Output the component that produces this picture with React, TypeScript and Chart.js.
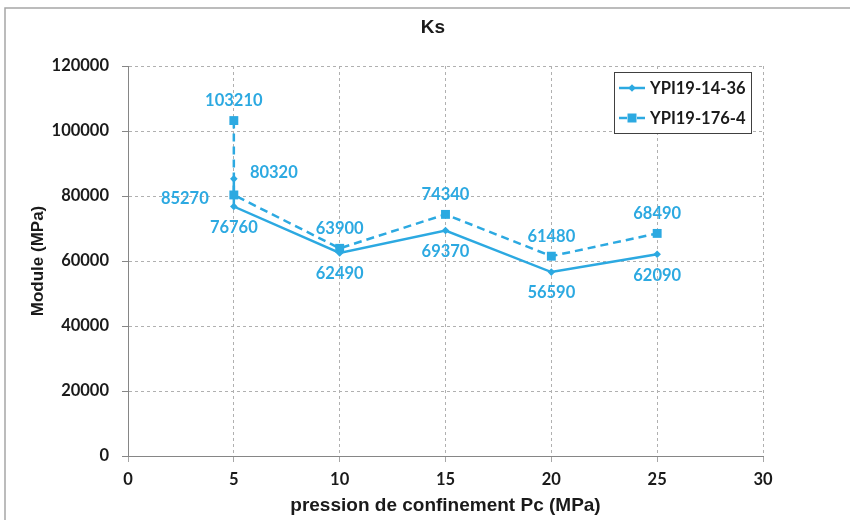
import React, { useEffect, useRef } from "react";
import { Chart, registerables } from "chart.js";

Chart.register(...registerables);

// ---- data ----
const chartTitle = "Ks";
const xTitle = "pression de confinement Pc (MPa)";
const yTitle = "Module (MPa)";
const seriesNames = ["YPI19-14-36", "YPI19-176-4"];
const pcS1 = [5, 5, 10, 15, 20, 25];
const moduleS1 = [85270, 76760, 62490, 69370, 56590, 62090];
const pcS2 = [5, 5, 10, 15, 20, 25];
const moduleS2 = [103210, 80320, 63900, 74340, 61480, 68490];
const xTickValues = [0, 5, 10, 15, 20, 25, 30];
const yTickValues = [0, 20000, 40000, 60000, 80000, 100000, 120000];

// ---- label placement (style) ----
const placementS1 = ["leftBelow", "below", "below", "below", "below", "below"];
const placementS2 = ["above", "rightAbove", "above", "above", "above", "above"];
const OFFSETS: Record<string, [number, number]> = {
  above: [0, -20],
  below: [0, 21],
  leftBelow: [-49, 20],
  rightAbove: [40, -22],
};

const BLUE = "#2CA9E1";
const LABEL_FONT = "bold 16.5px Lato, 'Open Sans', sans-serif";
const TITLE_FAMILY = "'Liberation Sans', Arial, sans-serif";

const decorPlugin = {
  id: "decor",
  beforeDraw(chart: any) {
    const ctx = chart.ctx;
    ctx.save();
    // outer frame (top + left edges visible)
    ctx.strokeStyle = "#A6A6A6";
    ctx.lineWidth = 1.5;
    ctx.beginPath();
    ctx.moveTo(5, 521);
    ctx.lineTo(5, 8);
    ctx.lineTo(851, 8);
    ctx.stroke();
    // title
    ctx.fillStyle = "#1a1a1a";
    ctx.font = `bold 19px ${TITLE_FAMILY}`;
    ctx.textAlign = "center";
    ctx.textBaseline = "middle";
    ctx.fillText(chartTitle, 433, 28);
    ctx.restore();
  },
  afterDatasetsDraw(chart: any) {
    const ctx = chart.ctx;
    ctx.save();
    // data labels
    ctx.font = LABEL_FONT;
    ctx.fillStyle = BLUE;
    ctx.textAlign = "center";
    ctx.textBaseline = "middle";
    const placements = [placementS1, placementS2];
    chart.data.datasets.forEach((ds: any, di: number) => {
      const meta = chart.getDatasetMeta(di);
      meta.data.forEach((el: any, i: number) => {
        const [dx, dy] = OFFSETS[placements[di][i]];
        ctx.fillText(String(ds.data[i].y), el.x + dx, el.y + dy);
      });
    });

    // legend
    const bx = 614.5, by = 72.5, bw = 137, bh = 61;
    ctx.fillStyle = "#ffffff";
    ctx.fillRect(bx, by, bw, bh);
    ctx.strokeStyle = "#404040";
    ctx.lineWidth = 1;
    ctx.strokeRect(bx, by, bw, bh);
    const rows = [88, 118];
    chart.data.datasets.forEach((ds: any, di: number) => {
      const y = rows[di];
      ctx.strokeStyle = BLUE;
      ctx.fillStyle = BLUE;
      ctx.lineWidth = 2.5;
      ctx.beginPath();
      if (di === 0) {
        ctx.moveTo(619, y);
        ctx.lineTo(645, y);
      } else {
        ctx.moveTo(619, y);
        ctx.lineTo(627, y);
        ctx.moveTo(637, y);
        ctx.lineTo(645, y);
      }
      ctx.stroke();
      ctx.beginPath();
      if (di === 0) {
        const r = 3.8;
        ctx.moveTo(632, y - r);
        ctx.lineTo(632 + r, y);
        ctx.lineTo(632, y + r);
        ctx.lineTo(632 - r, y);
        ctx.closePath();
      } else {
        ctx.rect(632 - 4.5, y - 4.5, 9, 9);
      }
      ctx.fill();
      ctx.fillStyle = "#1a1a1a";
      ctx.font = LABEL_FONT;
      ctx.textAlign = "left";
      ctx.textBaseline = "middle";
      ctx.fillText(ds.label, 650, y + 1);
    });
    ctx.restore();
  },
};

export default function App() {
  const canvasRef = useRef<HTMLCanvasElement | null>(null);

  useEffect(() => {
    const canvas = canvasRef.current;
    if (!canvas) return;
    const tickFont = { family: "Lato, 'Open Sans', sans-serif", size: 16.5, weight: "bold" as const };
    const chart = new Chart(canvas, {
      type: "line",
      data: {
        datasets: [
          {
            label: seriesNames[0],
            data: pcS1.map((x, i) => ({ x, y: moduleS1[i] })),
            borderColor: BLUE,
            backgroundColor: BLUE,
            borderWidth: 2.5,
            pointStyle: "rectRot",
            pointRadius: 3.8,
            pointBorderWidth: 0,
            pointBackgroundColor: BLUE,
            tension: 0,
            fill: false,
          },
          {
            label: seriesNames[1],
            data: pcS2.map((x, i) => ({ x, y: moduleS2[i] })),
            borderColor: BLUE,
            backgroundColor: BLUE,
            borderWidth: 2.5,
            borderDash: [8, 5],
            pointStyle: "rect",
            pointRadius: 6.3,
            pointBorderWidth: 0,
            pointBackgroundColor: BLUE,
            tension: 0,
            fill: false,
          },
        ],
      },
      options: {
        animation: false,
        responsive: false,
        devicePixelRatio: 1,
        layout: { padding: { top: 66, right: 87, left: 0, bottom: 0 } },
        plugins: {
          legend: { display: false },
          title: { display: false },
          tooltip: { enabled: false },
        },
        scales: {
          x: {
            type: "linear",
            min: xTickValues[0],
            max: xTickValues[xTickValues.length - 1],
            afterBuildTicks: (scale: any) => {
              scale.ticks = xTickValues.map((v) => ({ value: v }));
            },
            afterFit: (scale: any) => {
              scale.height = 64;
            },
            ticks: {
              padding: 8,
              color: "#1a1a1a",
              font: tickFont,
              maxRotation: 0,
              callback: (v: any) => String(v),
            },
            grid: {
              color: "#B0B0B0",
              lineWidth: 1,
              tickLength: 6,
              tickColor: "#A6A6A6",
              tickBorderDash: [],
            },
            border: { display: true, color: "#868686", width: 1, dash: [3, 3] },
            title: {
              display: true,
              text: xTitle,
              color: "#1a1a1a",
              font: { family: TITLE_FAMILY, size: 19, weight: "bold" },
              padding: { top: 0, bottom: 2.6 },
            },
          },
          y: {
            type: "linear",
            min: yTickValues[0],
            max: yTickValues[yTickValues.length - 1],
            afterBuildTicks: (scale: any) => {
              scale.ticks = yTickValues.map((v) => ({ value: v }));
            },
            afterFit: (scale: any) => {
              scale.width = 128;
            },
            ticks: {
              padding: 13,
              color: "#1a1a1a",
              font: tickFont,
              callback: (v: any) => String(v),
            },
            grid: {
              color: "#B0B0B0",
              lineWidth: 1,
              tickLength: 6,
              tickColor: "#868686",
              tickBorderDash: [],
            },
            border: { display: true, color: "#868686", width: 1, dash: [3, 3] },
            title: {
              display: true,
              text: yTitle,
              color: "#1a1a1a",
              font: { family: TITLE_FAMILY, size: 17, weight: "bold" },
              padding: { top: 27.8, bottom: 0 },
            },
          },
        },
      },
      plugins: [decorPlugin],
    });
    return () => chart.destroy();
  }, []);

  return (
    <div style={{ position: "fixed", left: 0, top: 0, width: 850, height: 520, background: "#fff" }}>
      <canvas ref={canvasRef} width={850} height={520} style={{ display: "block", width: 850, height: 520 }} />
    </div>
  );
}
